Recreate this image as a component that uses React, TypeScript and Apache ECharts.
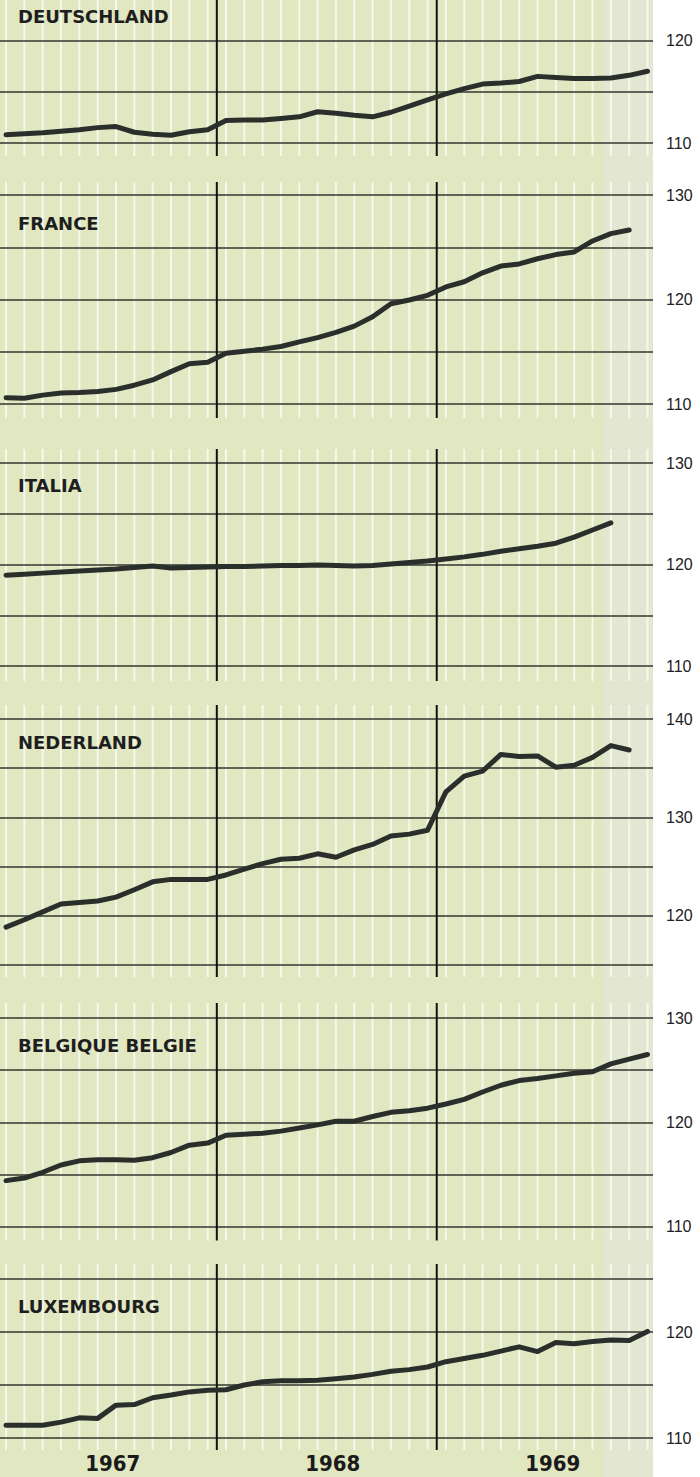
import React, { useEffect, useRef } from 'react';
import * as echarts from 'echarts';

// month index 0 = January 1967 ... 35 = December 1969
const monthIndex = Array.from({ length: 36 }, (_, i) => i);
const yearLabels = ['1967', '1968', '1969'];
const countryNames = ['DEUTSCHLAND', 'FRANCE', 'ITALIA', 'NEDERLAND', 'BELGIQUE BELGIE', 'LUXEMBOURG'];

const deutschland = [
  110.8, 110.9, 111.0, 111.15, 111.3, 111.5, 111.6, 111.05, 110.85, 110.75, 111.1, 111.3,
  112.2, 112.25, 112.25, 112.4, 112.55, 113.05, 112.9, 112.7, 112.55, 113.0, 113.6, 114.2,
  114.8, 115.3, 115.75, 115.85, 116.0, 116.5, 116.4, 116.3, 116.3, 116.35, 116.6, 117.0,
];
const france = [
  110.6, 110.55, 110.85, 111.05, 111.1, 111.2, 111.4, 111.8, 112.3, 113.1, 113.85, 114.0,
  114.85, 115.05, 115.25, 115.5, 115.95, 116.35, 116.85, 117.45, 118.35, 119.6, 119.95, 120.4,
  121.2, 121.7, 122.55, 123.2, 123.4, 123.9, 124.3, 124.55, 125.6, 126.3, 126.65,
];
const italia = [
  118.95, 119.05, 119.15, 119.25, 119.35, 119.45, 119.55, 119.7, 119.85, 119.65, 119.7, 119.75,
  119.8, 119.8, 119.85, 119.9, 119.9, 119.95, 119.9, 119.85, 119.9, 120.05, 120.2, 120.35,
  120.55, 120.75, 121.0, 121.3, 121.55, 121.8, 122.1, 122.7, 123.4, 124.1,
];
const nederland = [
  118.85, 119.6, 120.4, 121.2, 121.35, 121.5, 121.9, 122.65, 123.45, 123.7, 123.7, 123.7,
  124.15, 124.75, 125.3, 125.75, 125.85, 126.3, 125.95, 126.7, 127.25, 128.1, 128.3, 128.7,
  132.6, 134.2, 134.7, 136.4, 136.2, 136.25, 135.1, 135.3, 136.1, 137.3, 136.85,
];
const belgique = [
  114.4, 114.65, 115.2, 115.9, 116.3, 116.4, 116.4, 116.35, 116.6, 117.1, 117.8, 118.0,
  118.75, 118.85, 118.95, 119.15, 119.45, 119.75, 120.1, 120.1, 120.55, 120.95, 121.1, 121.35,
  121.75, 122.2, 122.9, 123.55, 124.0, 124.2, 124.45, 124.7, 124.85, 125.6, 126.05, 126.5,
];
const luxembourg = [
  111.2, 111.2, 111.2, 111.5, 111.9, 111.85, 113.1, 113.15, 113.8, 114.05, 114.35, 114.5,
  114.55, 115.0, 115.3, 115.4, 115.4, 115.45, 115.6, 115.75, 116.0, 116.3, 116.45, 116.7,
  117.2, 117.5, 117.8, 118.2, 118.6, 118.15, 119.0, 118.9, 119.1, 119.25, 119.2, 120.05,
];
const seriesValues = [deutschland, france, italia, nederland, belgique, luxembourg];

// axis ranges (values)
const axisMin = [110, 110, 110, 115, 110, 110];
const axisMax = [120, 130, 130, 140, 130, 125];

// layout (pixels)
const layout = [
  { top: 40.5, bottom: 143, extTop: 41, extBot: 13, titleY: 16.5 },
  { top: 195, bottom: 404, extTop: 13, extBot: 14, titleY: 223.5 },
  { top: 463, bottom: 666, extTop: 14, extBot: 15, titleY: 485 },
  { top: 719, bottom: 965, extTop: 14, extBot: 12, titleY: 742 },
  { top: 1018, bottom: 1226.5, extTop: 15, extBot: 14, titleY: 1045.5 },
  { top: 1279, bottom: 1438, extTop: 15, extBot: 12, titleY: 1306.5 },
];

const GREEN = '#e0e7c1';
const PALE = '#e3e7d1';
const WHITE_LINE = '#f6f8eb';
const GRID_LINE = '#35372f';
const DATA_LINE = '#2a2f2c';

export default function App() {
  const ref = useRef<HTMLDivElement>(null);
  useEffect(() => {
    if (!ref.current) return;
    const chart = echarts.init(ref.current, null, { renderer: 'svg' });

    const grids: any[] = [];
    const xAxes: any[] = [];
    const yAxes: any[] = [];
    const series: any[] = [];
    const graphics: any[] = [
      { type: 'rect', z: -100, shape: { x: 0, y: 0, width: 653, height: 1477 }, style: { fill: GREEN } },
      { type: 'rect', z: -99, shape: { x: 603, y: 0, width: 50, height: 1477 }, style: { fill: PALE } },
    ];

    layout.forEach((p, i) => {
      const mn = axisMin[i];
      const mx = axisMax[i];
      grids.push({ left: 0, width: 653, top: p.top, height: p.bottom - p.top });
      xAxes.push({
        type: 'value', gridIndex: i, min: -0.33, max: 35.3, show: false,
        splitLine: { show: false },
      });
      yAxes.push({
        type: 'value', gridIndex: i, position: 'right', min: mn, max: mx, interval: 5,
        axisLine: { show: false }, axisTick: { show: false },
        splitLine: { show: true, lineStyle: { color: GRID_LINE, width: 1.5 } },
        axisLabel: {
          margin: 13, color: '#222', fontSize: 16, fontFamily: 'Liberation Sans, Arial, sans-serif',
          formatter: (v: number) => (v % 10 === 0 ? String(v) : ''),
        },
      });
      // white monthly guide lines
      series.push({
        type: 'custom', xAxisIndex: i, yAxisIndex: i, z: -5, silent: true, clip: false,
        data: monthIndex.map((m) => [m, mn]),
        renderItem: (params: any, api: any) => {
          const m = api.value(0);
          const pb = api.coord([m, mn]);
          const pt = api.coord([m, mx]);
          return {
            type: 'line',
            shape: { x1: pb[0], y1: pt[1] - p.extTop, x2: pb[0], y2: pb[1] + p.extBot },
            style: { stroke: WHITE_LINE, lineWidth: 2 },
          };
        },
      });
      // year boundary lines
      series.push({
        type: 'custom', xAxisIndex: i, yAxisIndex: i, z: 1, silent: true, clip: false,
        data: [[11.5, mn], [23.5, mn]],
        renderItem: (params: any, api: any) => {
          const m = api.value(0);
          const pb = api.coord([m, mn]);
          const pt = api.coord([m, mx]);
          return {
            type: 'line',
            shape: { x1: pb[0], y1: pt[1] - p.extTop, x2: pb[0], y2: pb[1] + p.extBot },
            style: { stroke: '#111', lineWidth: 2 },
          };
        },
      });
      // data line
      series.push({
        type: 'line', xAxisIndex: i, yAxisIndex: i, z: 3, silent: true,
        showSymbol: false, symbol: 'none', smooth: false, clip: false,
        data: seriesValues[i].map((v, m) => [m, v]),
        lineStyle: { color: DATA_LINE, width: 5, cap: 'round', join: 'round' },
      });
      graphics.push({
        type: 'text', x: 18, y: p.titleY, z: 10,
        style: {
          text: countryNames[i], fill: '#1e1e1e',
          font: 'bold 18px "DejaVu Sans", sans-serif',
          verticalAlign: 'middle', textVerticalAlign: 'middle',
        },
      });
    });

    // year labels under the last panel
    const last = layout.length - 1;
    series.push({
      type: 'custom', xAxisIndex: last, yAxisIndex: last, z: 5, silent: true, clip: false,
      data: yearLabels.map((y, k) => [k * 12 + 5.5, axisMin[last], y]),
      renderItem: (params: any, api: any) => {
        const pt = api.coord([api.value(0), api.value(1)]);
        return {
          type: 'text',
          x: pt[0] + 6,
          y: pt[1] + 25,
          style: {
            text: yearLabels[params.dataIndex], fill: '#1a1a1a',
            font: 'bold 22px "DejaVu Sans Condensed", "Liberation Sans Narrow", "Liberation Sans", sans-serif',
            align: 'center', verticalAlign: 'middle',
          },
        };
      },
    });

    chart.setOption({
      animation: false,
      backgroundColor: '#ffffff',
      grid: grids,
      xAxis: xAxes,
      yAxis: yAxes,
      series,
      graphic: { elements: graphics },
    });
    return () => chart.dispose();
  }, []);

  return (
    <div
      ref={ref}
      style={{ position: 'absolute', left: 0, top: 0, width: 700, height: 1477 }}
    />
  );
}
